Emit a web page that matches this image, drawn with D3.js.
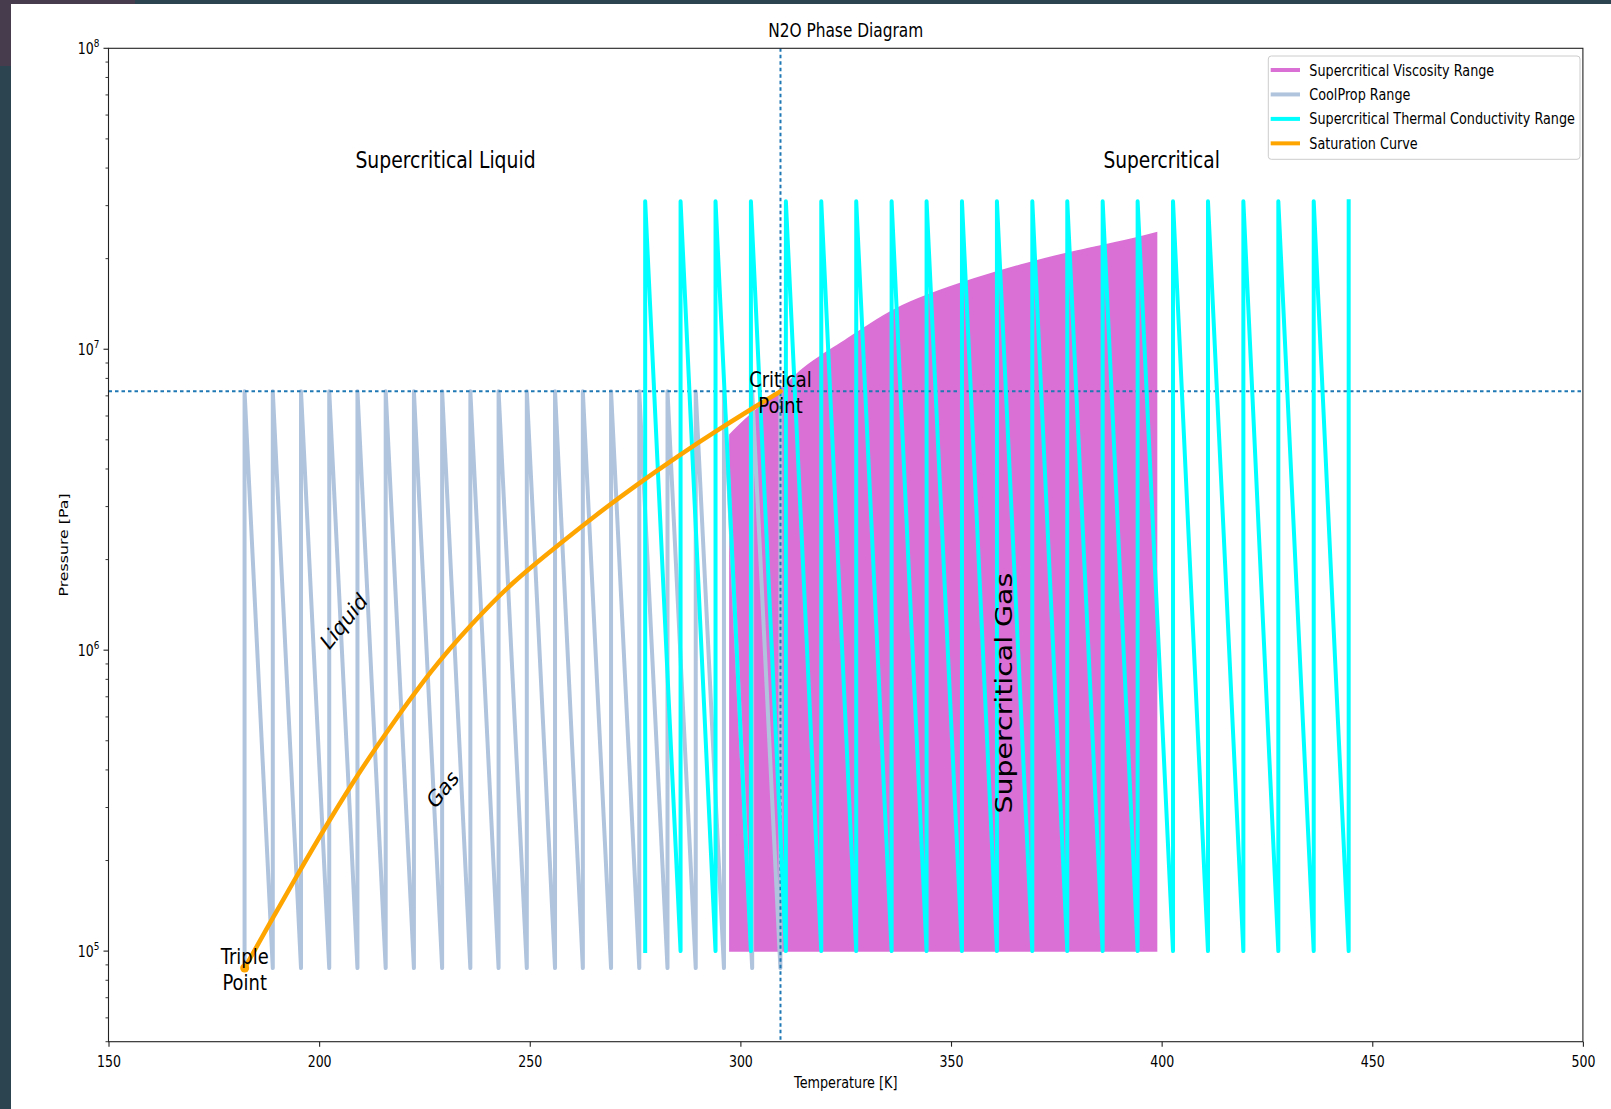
<!DOCTYPE html>
<html>
<head>
<meta charset="utf-8">
<script src="https://cdn.jsdelivr.net/npm/d3@7"></script>
<style>
  body { margin: 0; background: #fff; }
  svg { display: block; }
  text { font-family: "DejaVu Sans", sans-serif; fill: #000; }
</style>
</head>
<body>
<script>
// ---- data ----
var tripleT = 182.33, tripleP = 87850;
var critT = 309.52, critP = 7.245e6;

// saturation curve
var satT = [182.33, 187.6, 194.9, 202.2, 209.5, 216.8, 226.6, 236.3, 246.0, 255.8, 265.5, 275.3, 285.0, 294.7, 304.5, 309.52];
var satP = [87850, 1.19e5, 1.80e5, 2.69e5, 3.93e5, 5.54e5, 8.6e5, 1.23e6, 1.69e6, 2.18e6, 2.80e6, 3.54e6, 4.40e6, 5.40e6, 6.57e6, 7.245e6];

// CoolProp range (sawtooth, one tooth per temperature)
var coolT = [182.3, 189.0, 195.7, 202.4, 209.1, 215.8, 222.5, 229.2, 235.9, 242.6,
             249.3, 256.0, 262.6, 269.3, 276.0, 282.7, 289.4, 296.1, 302.8, 309.5];
var coolPmin = 87850, coolPmax = 7.245e6;

// supercritical thermal conductivity range
var thermT = [277.4, 285.8, 294.1, 302.5, 310.8, 319.2, 327.5, 335.9, 344.2, 352.6, 360.9,
              369.3, 377.6, 386.0, 394.3, 402.7, 411.0, 419.4, 427.7, 436.1, 444.4];
var thermPmin = 1e5, thermPmax = 3.1e7;

// supercritical viscosity range (upper edge)
var viscT = [297.5, 303, 309.5, 314, 319, 325, 331, 337, 343.4, 355.6, 367.8, 380, 392, 398.8];
var viscPmax = [5.2e6, 6.2e6, 7.24e6, 8.5e6, 9.5e6, 1.07e7, 1.22e7, 1.37e7, 1.5e7, 1.72e7, 1.93e7, 2.13e7, 2.3e7, 2.44e7];
var viscPmin = 1e5;

var xTicks = [150, 200, 250, 300, 350, 400, 450, 500];
var yMajor = [1e5, 1e6, 1e7, 1e8];

var legendNames = ["Supercritical Viscosity Range", "CoolProp Range",
                   "Supercritical Thermal Conductivity Range", "Saturation Curve"];
var legendColors = ["orchid", "lightsteelblue", "cyan", "orange"];

// ---- layout ----
var W = 1611, H = 1109;
var K = 0.81; // glyphs in the picture are narrowed horizontally
var padL = 108.5, padR = 1582.9, padT = 48.3, padB = 1041.7;

var x = d3.scaleLinear().domain([150, 500]).range([padL, padR]);
var y = d3.scaleLog().domain([5e4, 1e8]).range([padB, padT]);

var svg = d3.select("body").append("svg")
    .attr("width", W)
    .attr("height", H);

// window surroundings
svg.append("rect").attr("x", 0).attr("y", 0).attr("width", 11).attr("height", H).attr("fill", "#2c4350");
svg.append("rect").attr("x", 0).attr("y", 0).attr("width", W).attr("height", 4).attr("fill", "#2c4350");
svg.append("path").attr("d", "M0,0H135V4H11V66H0Z").attr("fill", "#463c4e");

function place(sel, px, py, rot) {
    sel.attr("transform", "translate(" + px + "," + py + ") scale(" + K + ",1)" + (rot ? " rotate(" + rot + ")" : ""));
    return sel;
}

var plot = svg.append("g");
svg.append("clipPath").attr("id", "clip").append("rect")
    .attr("x", padL).attr("y", padT).attr("width", padR - padL).attr("height", padB - padT);
var marks = plot.append("g").attr("clip-path", "url(#clip)");

// viscosity area
var area = d3.area()
    .x(function(d) { return x(d[0]); })
    .y0(y(viscPmin))
    .y1(function(d) { return y(d[1]); })
    .curve(d3.curveBasis);
marks.append("path")
    .datum(viscT.map(function(t, i) { return [t, viscPmax[i]]; }))
    .attr("d", area)
    .attr("fill", "orchid")
    .attr("stroke", "orchid")
    .attr("stroke-width", 1.5);

function sawtooth(ts, pmin, pmax) {
    var pts = [];
    ts.forEach(function(t) { pts.push([t, pmin]); pts.push([t, pmax]); });
    return pts;
}
var line = d3.line().x(function(d) { return x(d[0]); }).y(function(d) { return y(d[1]); });

marks.append("path")
    .datum(sawtooth(coolT, coolPmin, coolPmax))
    .attr("d", line)
    .attr("fill", "none").attr("stroke", "lightsteelblue")
    .attr("stroke-width", 4).attr("stroke-linejoin", "round").attr("stroke-linecap", "square");

// critical point guide lines
marks.append("line")
    .attr("x1", padL).attr("x2", padR).attr("y1", y(critP)).attr("y2", y(critP))
    .attr("stroke", "#1f77b4").attr("stroke-width", 2).attr("stroke-dasharray", "3.5,3");
marks.append("line")
    .attr("x1", x(critT)).attr("x2", x(critT)).attr("y1", padT).attr("y2", padB)
    .attr("stroke", "#1f77b4").attr("stroke-width", 2).attr("stroke-dasharray", "3.5,3");

marks.append("path")
    .datum(sawtooth(thermT, thermPmin, thermPmax))
    .attr("d", line)
    .attr("fill", "none").attr("stroke", "cyan")
    .attr("stroke-width", 4).attr("stroke-linejoin", "round").attr("stroke-linecap", "square");

var satLine = d3.line().x(function(d) { return x(d[0]); }).y(function(d) { return y(d[1]); })
    .curve(d3.curveBasis);
marks.append("path")
    .datum(satT.map(function(t, i) { return [t, satP[i]]; }))
    .attr("d", satLine)
    .attr("fill", "none").attr("stroke", "orange")
    .attr("stroke-width", 4.5).attr("stroke-linejoin", "round").attr("stroke-linecap", "round");

marks.append("circle")
    .attr("cx", x(tripleT)).attr("cy", y(tripleP)).attr("r", 4.5).attr("fill", "orange");

// ---- annotations ----
var notes = [
    {t: "Supercritical Liquid", T: 230, P: 4e7, size: 23.2, rot: 0, mid: false},
    {t: "Supercritical", T: 400, P: 4e7, size: 23, rot: 0, mid: false},
    {t: "Supercritical Gas", T: 362.5, P: 7.2e5, size: 28.4, rot: -90, mid: true},
    {t: "Liquid", T: 205.9, P: 1.245e6, size: 23, rot: -45, mid: true},
    {t: "Gas", T: 229.4, P: 3.45e5, size: 23, rot: -45, mid: true}
];
notes.forEach(function(n) {
    var tx = plot.append("text")
        .attr("text-anchor", "middle")
        .attr("font-size", n.size)
        .attr("dominant-baseline", n.mid ? "central" : "alphabetic")
        .text(n.t);
    place(tx, x(n.T), y(n.P), n.rot);
});

var twoLine = [
    {a: "Triple", b: "Point", T: tripleT, P: tripleP},
    {a: "Critical", b: "Point", T: critT, P: critP}
];
twoLine.forEach(function(n) {
    var s = 22.1;
    var g = plot.append("text").attr("text-anchor", "middle").attr("font-size", s);
    g.append("tspan").attr("x", 0).attr("y", -0.2 * s).text(n.a);
    g.append("tspan").attr("x", 0).attr("y", 1.0 * s).text(n.b);
    place(g, x(n.T), y(n.P), 0);
});

// ---- axes ----
var xAxis = plot.append("g")
    .attr("transform", "translate(0," + padB + ")")
    .call(d3.axisBottom(x).tickValues(xTicks).tickSize(5).tickSizeOuter(0).tickFormat(d3.format("d")));
xAxis.select(".domain").remove();
xAxis.selectAll("line").attr("stroke", "#222").attr("stroke-width", 1.1);
xAxis.selectAll("text").each(function() {
    var t = d3.select(this);
    t.attr("y", null).attr("dy", null).attr("fill", "#000").attr("font-size", 15.5);
    place(t, 0, 25, 0);
});

var yMinor = [];
[1e4, 1e5, 1e6, 1e7].forEach(function(b) {
    [2, 3, 4, 5, 6, 7, 8, 9].forEach(function(m) {
        var v = b * m;
        if (v >= 5e4 && v < 1e8) yMinor.push(v);
    });
});
var yAx = plot.append("g").attr("transform", "translate(" + padL + ",0)");
yAx.selectAll(".minor").data(yMinor).enter().append("line")
    .attr("x1", -3).attr("x2", 0)
    .attr("y1", function(d) { return y(d); }).attr("y2", function(d) { return y(d); })
    .attr("stroke", "#222").attr("stroke-width", 0.9);
yAx.selectAll(".major").data(yMajor).enter().append("line")
    .attr("x1", -5).attr("x2", 0)
    .attr("y1", function(d) { return y(d); }).attr("y2", function(d) { return y(d); })
    .attr("stroke", "#222").attr("stroke-width", 1.1);
yAx.selectAll(".lab").data(yMajor).enter().append("text")
    .attr("text-anchor", "end")
    .attr("font-size", 15.5)
    .each(function(d) {
        var t = d3.select(this);
        t.append("tspan").text("10");
        t.append("tspan").attr("font-size", 11).attr("dy", -7).text(Math.round(Math.log10(d)));
        place(t, -9, y(d) + 5.5, 0);
    });

// spines
plot.append("rect")
    .attr("x", padL).attr("y", padT).attr("width", padR - padL).attr("height", padB - padT)
    .attr("fill", "none").attr("stroke", "#222").attr("stroke-width", 1.1);

// titles
place(plot.append("text").attr("text-anchor", "middle").attr("font-size", 19).text("N2O Phase Diagram"),
      (padL + padR) / 2, 37, 0);
place(plot.append("text").attr("text-anchor", "middle").attr("font-size", 15.8).text("Temperature [K]"),
      (padL + padR) / 2, 1088, 0);
place(plot.append("text").attr("text-anchor", "middle").attr("font-size", 15.8)
        .attr("dominant-baseline", "central").text("Pressure [Pa]"),
      64, (padT + padB) / 2, -90);

// ---- legend ----
var lg = plot.append("g");
lg.append("rect")
    .attr("x", 1268.3).attr("y", 56).attr("width", 311.7).attr("height", 103.3)
    .attr("rx", 3).attr("fill", "#fff").attr("fill-opacity", 0.8)
    .attr("stroke", "#ccc").attr("stroke-width", 1);
legendNames.forEach(function(name, i) {
    var ry = 70 + i * 24.45;
    lg.append("line")
        .attr("x1", 1272.7).attr("x2", 1298).attr("y1", ry).attr("y2", ry)
        .attr("stroke", legendColors[i]).attr("stroke-width", 4).attr("stroke-linecap", "square");
    place(lg.append("text").attr("font-size", 15.8).text(name), 1309.3, ry + 5.5, 0);
});
</script>
</body>
</html>
